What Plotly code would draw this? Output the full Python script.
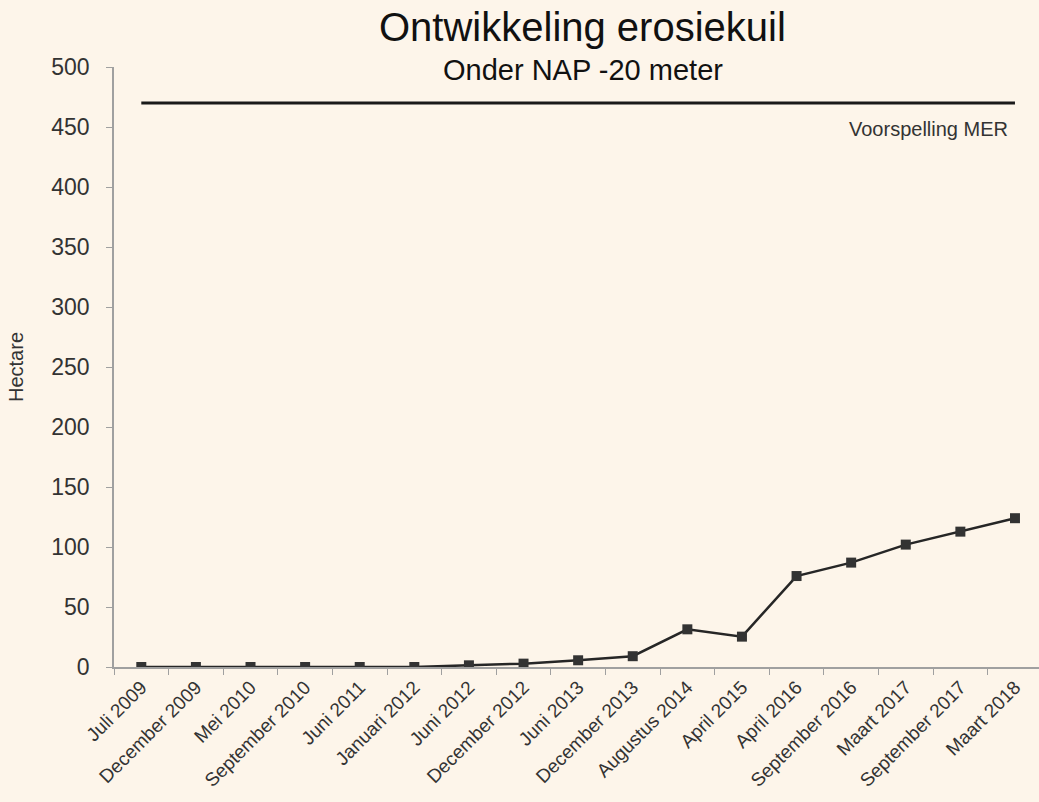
import plotly.graph_objects as go

categories = ["Juli 2009", "December 2009", "Mei 2010", "September 2010", "Juni 2011",
              "Januari 2012", "Juni 2012", "December 2012", "Juni 2013", "December 2013",
              "Augustus 2014", "April 2015", "April 2016", "September 2016", "Maart 2017",
              "September 2017", "Maart 2018"]
hectare = [0, 0, 0, 0, 0, 0, 1.4, 2.8, 5.6, 9.0, 31.4, 25.3, 75.8, 87.0, 102.0, 112.8, 124.0]
voorspelling_mer = [470] * len(categories)
y_ticks = [0, 50, 100, 150, 200, 250, 300, 350, 400, 450, 500]

BG = "#fdf5ea"
FONT = "Liberation Sans, Arial, sans-serif"

fig = go.Figure()
fig.add_trace(go.Scatter(x=categories, y=voorspelling_mer, mode="lines",
                         line=dict(color="#1a1a1a", width=3), showlegend=False,
                         hoverinfo="skip"))
fig.add_trace(go.Scatter(x=categories, y=hectare, mode="lines+markers",
                         line=dict(color="#262626", width=2.5),
                         marker=dict(symbol="square", size=10, color="#333333"),
                         showlegend=False))

fig.update_layout(
    width=1039, height=802,
    paper_bgcolor=BG, plot_bgcolor=BG,
    margin=dict(l=114, r=0, t=67, b=135),
    font=dict(family=FONT, color="#222222"),
    annotations=[
        dict(text="Ontwikkeling erosiekuil", xref="paper", yref="paper",
             x=0.507, y=1, yshift=40, showarrow=False, xanchor="center", yanchor="middle",
             font=dict(size=40, color="#111111", family=FONT)),
        dict(text="Onder NAP -20 meter", xref="paper", yref="paper",
             x=0.507, y=1, yshift=-3, showarrow=False, xanchor="center", yanchor="middle",
             font=dict(size=29, color="#111111", family=FONT)),
        dict(text="Voorspelling MER", xref="paper", yref="y",
             x=0.969, y=448, showarrow=False, xanchor="right", yanchor="middle",
             font=dict(size=20, color="#333333", family=FONT)),
    ],
)
fig.update_xaxes(type="category", categoryorder="array", categoryarray=categories,
                 range=[-0.5, 16.44], showline=True, linecolor="#a0a0a0", linewidth=1.5,
                 ticks="outside", tickson="boundaries", ticklen=6, tickcolor="#a0a0a0",
                 tickangle=-45, tickfont=dict(size=19, color="#333333"),
                 showgrid=False, zeroline=False, automargin=False)
fig.update_yaxes(range=[0, 500], tickvals=y_ticks, showline=True, linecolor="#a0a0a0",
                 linewidth=1.5, ticks="outside", ticklen=6, tickcolor="#a0a0a0",
                 ticklabelstandoff=12, automargin=False,
                 tickfont=dict(size=23, color="#333333"), showgrid=False, zeroline=False,
                 title=dict(text="Hectare", font=dict(size=20, color="#333333"), standoff=22))

fig.write_html("out.html", config={"displayModeBar": False},
               post_script="document.body.style.margin='0';"
                           "document.body.style.background='%s';" % BG)
